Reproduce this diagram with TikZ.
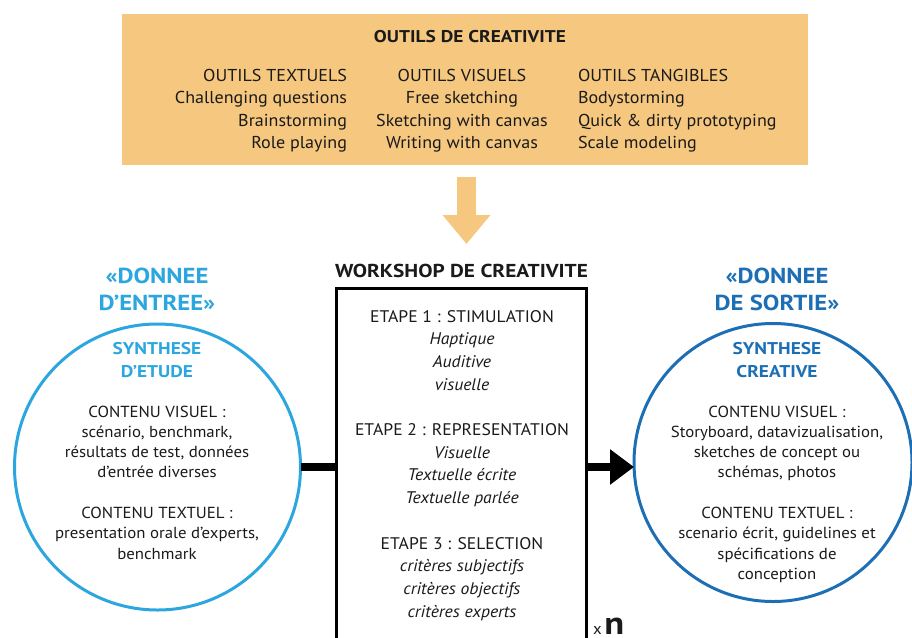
\documentclass[tikz,border=0pt]{standalone}
\usepackage{fontspec}
\setmainfont{PT Sans}[FakeStretch=1.05]
\newfontfamily\wb{PT Sans}[FakeStretch=1.14]
\usetikzlibrary{arrows.meta}
\definecolor{orng}{HTML}{F5C77F}
\definecolor{lblue}{HTML}{2CA6DE}
\definecolor{dblue}{HTML}{1C6FB5}
\definecolor{ink}{HTML}{1A1A1A}
\tikzset{
  every node/.style={inner sep=0pt, outer sep=0pt, text=ink},
  body/.style={font=\fontsize{17.2}{20}\selectfont, anchor=base},
  ctr/.style={font=\fontsize{16.8}{20}\selectfont, anchor=base},
  small/.style={font=\fontsize{16}{18}\selectfont, anchor=base},
  bighead/.style={font=\wb\fontsize{21.7}{24}\selectfont\bfseries, anchor=base},
  subhead/.style={font=\wb\fontsize{17}{20}\selectfont\bfseries, anchor=base},
  boldtitle/.style={font=\wb\fontsize{17}{20}\selectfont\bfseries, anchor=base},
  thickline/.style={line width=8pt, draw=black},
}
\begin{document}
\begin{tikzpicture}[x=1pt,y=-1pt]
\useasboundingbox (0,0) rectangle (912,637);
% top box
\node[fill=orng, minimum width=686pt, minimum height=151pt] (tools) at (465,89.5) {};
\node[boldtitle] (ttl) at (470,42) {OUTILS DE CREATIVITE};
\node[body, anchor=base east] (a1) at (347,81) {OUTILS TEXTUELS};
\node[body, anchor=base east] (a2) at (347,103.5) {Challenging questions};
\node[body, anchor=base east] (a3) at (347,126) {Brainstorming};
\node[body, anchor=base east] (a4) at (347,148.5) {Role playing};
\node[body] (b1) at (462,81) {OUTILS VISUELS};
\node[body] (b2) at (462,103.5) {Free sketching};
\node[body] (b3) at (462,126) {Sketching with canvas};
\node[body] (b4) at (462,148.5) {Writing with canvas};
\node[body, anchor=base west] (c1) at (578,81) {OUTILS TANGIBLES};
\node[body, anchor=base west] (c2) at (578,103.5) {Bodystorming};
\node[body, anchor=base west] (c3) at (578,126) {Quick \& dirty prototyping};
\node[body, anchor=base west] (c4) at (578,148.5) {Scale modeling};
% orange arrow
\coordinate (oa1) at (466.5,177);
\coordinate (oa2) at (466.5,244);
\draw[orng, line width=19pt, -{Triangle[length=29pt,width=46pt]}] (oa1) -- (oa2);
% workshop box
\node[boldtitle, font=\wb\fontsize{18.7}{20}\selectfont\bfseries] (wst) at (461.5,277) {WORKSHOP DE CREATIVITE};
\node[draw=black, line width=3pt, minimum width=250pt, minimum height=380pt, anchor=north] (ws) at (461.5,288) {};
\node[ctr] (e1) at (462,322) {ETAPE 1 : STIMULATION};
\node[ctr] (e2) at (462,344.7) {\itshape Haptique};
\node[ctr] (e3) at (462,367.4) {\itshape Auditive};
\node[ctr] (e4) at (462,390.1) {\itshape visuelle};
\node[ctr] (e5) at (462,435.5) {ETAPE 2 : REPRESENTATION};
\node[ctr] (e6) at (462,458.2) {\itshape Visuelle};
\node[ctr] (e7) at (462,480.9) {\itshape Textuelle écrite};
\node[ctr] (e8) at (462,503.6) {\itshape Textuelle parlée};
\node[ctr] (e9) at (462,549) {ETAPE 3 : SELECTION};
\node[ctr] (e10) at (462,571.7) {\itshape critères subjectifs};
\node[ctr] (e11) at (462,594.4) {\itshape critères objectifs};
\node[ctr] (e12) at (462,617.1) {\itshape critères experts};
\node[anchor=base west] (xn) at (593,634.5) {\fontsize{16}{16}\selectfont x\,\wb\fontsize{32}{32}\selectfont\bfseries n};
% left circle
\node[circle, draw=lblue, line width=3pt, minimum size=286pt] (lc) at (157.5,467) {};
\node[bighead, text=lblue] (l1) at (157,283) {«DONNEE};
\node[bighead, text=lblue] (l2) at (157,310) {D’ENTREE»};
\node[subhead, text=lblue] (l3) at (157,354) {SYNTHESE};
\node[subhead, text=lblue] (l4) at (157,377) {D’ETUDE};
\node[small] (l5) at (157,417) {CONTENU VISUEL :};
\node[small] (l6) at (157,437.3) {scénario, benchmark,};
\node[small] (l7) at (157,457.6) {résultats de test, données};
\node[small] (l8) at (157,477.9) {d’entrée diverses};
\node[small] (l9) at (157,518.5) {CONTENU TEXTUEL :};
\node[small] (l10) at (157,538.8) {presentation orale d’experts,};
\node[small] (l11) at (157,559.1) {benchmark};
% right circle
\node[circle, draw=dblue, line width=3pt, minimum size=278pt] (rc) at (773,462.5) {};
\node[bighead, text=dblue] (r1) at (777,283) {«DONNEE};
\node[bighead, text=dblue] (r2) at (777,310) {DE SORTIE»};
\node[subhead, text=dblue] (r3) at (777,354) {SYNTHESE};
\node[subhead, text=dblue] (r4) at (777,377) {CREATIVE};
\node[small] (r5) at (777,417) {CONTENU VISUEL :};
\node[small] (r6) at (777,437.3) {Storyboard, datavizualisation,};
\node[small] (r7) at (777,457.6) {sketches de concept ou};
\node[small] (r8) at (777,477.9) {schémas, photos};
\node[small] (r9) at (777,518.5) {CONTENU TEXTUEL :};
\node[small] (r10) at (777,538.8) {scenario écrit, guidelines et};
\node[small] (r11) at (777,559.1) {spécifications de};
\node[small] (r12) at (777,579.4) {conception};
% connectors
\draw[thickline] (lc.east) -- (lc.east -| ws.west);
\draw[thickline, -{Triangle[length=24pt,width=34pt]}] (ws.east |- lc.east) -- (rc.west |- lc.east);
\end{tikzpicture}
\end{document}
